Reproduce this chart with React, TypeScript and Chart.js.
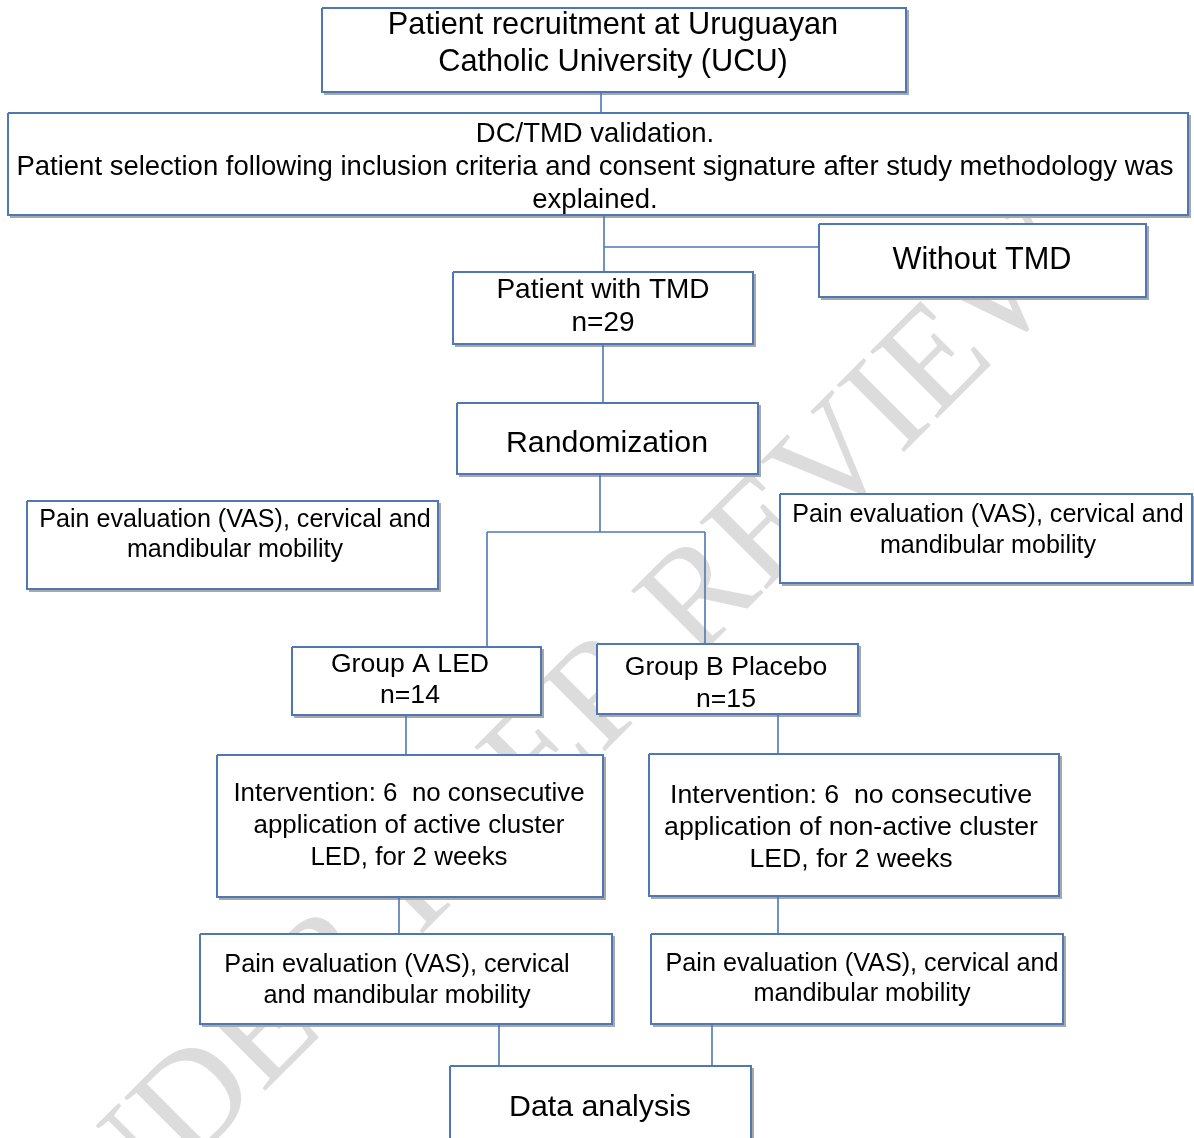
import React, { useEffect, useRef } from "react";
import { Chart, registerables } from "chart.js";

Chart.register(...registerables);

// ---- Flowchart data (page coordinates) ----
const boxLeft = [322, 8, 819, 453, 457, 27, 780, 292, 597, 217, 649, 200, 651, 450];
const boxTop = [8, 113, 224, 272, 403, 501, 494, 647, 644, 755, 754, 934, 934, 1066];
const boxRight = [906, 1188, 1146, 753, 758, 438, 1192, 541, 858, 603, 1059, 612, 1063, 751];
const boxBottom = [92, 215, 297, 344, 474, 589, 583, 715, 714, 897, 896, 1024, 1024, 1140];
const boxLines: string[][] = [
  ["Patient recruitment at Uruguayan", "Catholic University (UCU)"],
  [
    "DC/TMD validation.",
    "Patient selection following inclusion criteria and consent signature after study methodology was",
    "explained.",
  ],
  ["Without TMD"],
  ["Patient with TMD", "n=29"],
  ["Randomization"],
  ["Pain evaluation (VAS), cervical and", "mandibular mobility"],
  ["Pain evaluation (VAS), cervical and", "mandibular mobility"],
  ["Group A LED", "n=14"],
  ["Group B Placebo", "n=15"],
  ["Intervention: 6  no consecutive", "application of active cluster", "LED, for 2 weeks"],
  ["Intervention: 6  no consecutive", "application of non-active cluster", "LED, for 2 weeks"],
  ["Pain evaluation (VAS), cervical", "and mandibular mobility"],
  ["Pain evaluation (VAS), cervical and", "mandibular mobility"],
  ["Data analysis"],
];
const boxLineY: number[][] = [
  [26, 63],
  [134, 167, 200],
  [261],
  [290, 323],
  [444],
  [520, 550],
  [515, 546],
  [665, 696],
  [668, 700],
  [794, 826, 858],
  [796, 828, 860],
  [965, 996],
  [964, 994],
  [1108],
];
const boxCenterX = [613, 595, 982, 603, 607, 235, 988, 410, 726, 409, 851, 397, 862, 600];
const boxFontPx = [30.7, 27.5, 30.7, 28, 30.3, 25.1, 25.1, 26.6, 26.6, 25.9, 26.7, 25.3, 25.2, 30.3];

const connX1 = [601, 604, 604, 603, 600, 487, 487, 705, 406, 778, 399, 778, 499, 712];
const connY1 = [92, 215, 247, 344, 474, 532, 532, 532, 715, 714, 897, 896, 1024, 1024];
const connX2 = [601, 604, 819, 603, 600, 705, 487, 705, 406, 778, 399, 778, 499, 712];
const connY2 = [113, 272, 247, 403, 532, 532, 647, 644, 755, 754, 934, 934, 1066, 1066];

const watermarkText = "UNDER PEER REVIEW";

const BLUE = "#4f77b3";
const FONT = "'Liberation Sans', Arial, sans-serif";

const flowPlugin = {
  id: "flowPlugin",
  beforeDatasetsDraw(chart: any) {
    const { ctx, scales } = chart;
    const xs = scales.x;
    const ys = scales.y;
    // watermark
    ctx.save();
    ctx.translate(xs.getPixelForValue(540), ys.getPixelForValue(762));
    ctx.rotate((-45 * Math.PI) / 180);
    ctx.font = "145px 'Liberation Serif', 'Times New Roman', serif";
    ctx.textAlign = "center";
    ctx.textBaseline = "middle";
    ctx.fillStyle = "#dcdcdc";
    ctx.fillText(watermarkText, 0, 0);
    ctx.restore();
    // box shadows and white fills
    ctx.save();
    for (let i = 0; i < boxLeft.length; i++) {
      const l = xs.getPixelForValue(boxLeft[i]);
      const r = xs.getPixelForValue(boxRight[i]);
      const t = ys.getPixelForValue(boxTop[i]);
      const b = ys.getPixelForValue(boxBottom[i]);
      ctx.fillStyle = "#a8a8a8";
      ctx.fillRect(l + 2, t + 2, r - l + 1, b - t + 1);
      ctx.fillStyle = "#ffffff";
      ctx.fillRect(l, t, r - l, b - t);
    }
    ctx.restore();
  },
  afterDatasetsDraw(chart: any) {
    const { ctx, scales } = chart;
    const xs = scales.x;
    const ys = scales.y;
    ctx.save();
    ctx.fillStyle = "#000000";
    ctx.textAlign = "center";
    ctx.textBaseline = "middle";
    for (let i = 0; i < boxLines.length; i++) {
      ctx.font = `${boxFontPx[i]}px ${FONT}`;
      boxLines[i].forEach((line, j) => {
        ctx.fillText(line, xs.getPixelForValue(boxCenterX[i]), ys.getPixelForValue(boxLineY[i][j]));
      });
    }
    ctx.restore();
  },
};

export default function App() {
  const canvasRef = useRef<HTMLCanvasElement | null>(null);

  useEffect(() => {
    if (!canvasRef.current) return;
    const datasets: any[] = [];
    for (let i = 0; i < connX1.length; i++) {
      datasets.push({
        data: [
          { x: connX1[i], y: connY1[i] },
          { x: connX2[i], y: connY2[i] },
        ],
        showLine: true,
        borderColor: BLUE,
        borderWidth: 1.6,
        pointRadius: 0,
        fill: false,
        tension: 0,
        clip: false,
        order: 2,
      });
    }
    for (let i = 0; i < boxLeft.length; i++) {
      datasets.push({
        data: [
          { x: boxLeft[i], y: boxTop[i] },
          { x: boxRight[i], y: boxTop[i] },
          { x: boxRight[i], y: boxBottom[i] },
          { x: boxLeft[i], y: boxBottom[i] },
          { x: boxLeft[i], y: boxTop[i] },
        ],
        showLine: true,
        borderColor: BLUE,
        borderWidth: 2,
        borderJoinStyle: "miter",
        pointRadius: 0,
        fill: false,
        tension: 0,
        clip: false,
        order: 1,
      });
    }
    const chart = new Chart(canvasRef.current, {
      type: "scatter",
      data: { datasets },
      options: {
        animation: false,
        responsive: false,
        maintainAspectRatio: false,
        devicePixelRatio: 1,
        events: [],
        layout: { padding: 0 },
        scales: {
          x: { type: "linear", min: 0, max: 1194, display: false },
          y: { type: "linear", min: 0, max: 1138, reverse: true, display: false },
        },
        plugins: {
          legend: { display: false },
          tooltip: { enabled: false },
        },
      },
      plugins: [flowPlugin],
    });
    return () => chart.destroy();
  }, []);

  return (
    <div style={{ position: "absolute", left: 0, top: 0, width: 1194, height: 1138, background: "#ffffff" }}>
      <canvas ref={canvasRef} width={1194} height={1138} style={{ display: "block", width: 1194, height: 1138 }} />
    </div>
  );
}
